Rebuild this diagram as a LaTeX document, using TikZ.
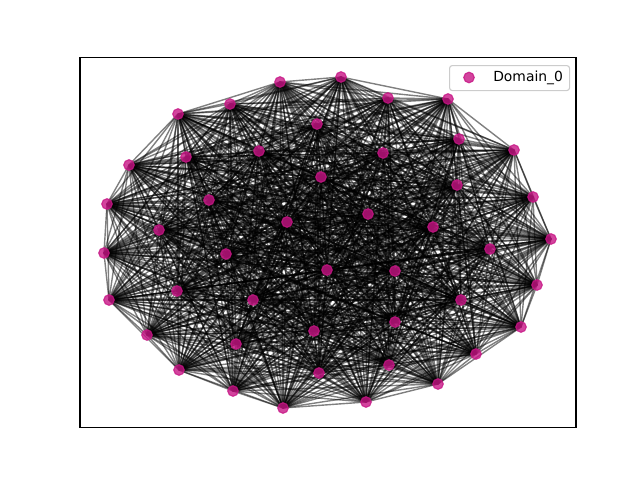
\documentclass[tikz,border=0pt]{standalone}
\usepackage{fontspec}
\setmainfont{DejaVu Sans}
\definecolor{mvr}{RGB}{199,21,133}
\pgfdeclarelayer{bg}
\pgfsetlayers{bg,main}
\begin{document}
\begin{tikzpicture}[x=0.72pt,y=-0.72pt,
  edge/.style={black,opacity=0.5,line width=1pt},
  vtx/.style={circle,fill=mvr,draw=mvr,fill opacity=0.8,draw opacity=0.8,line width=0.8pt,minimum size=7.6pt,inner sep=0pt},
  legbox/.style={draw=black!20,fill=white,fill opacity=0.8,rounded corners=2pt,line width=0.8pt},
  legtext/.style={font=\fontsize{10}{12}\selectfont,anchor=west,inner sep=0pt}]
\useasboundingbox (0,0) rectangle (640,480);
\foreach \i/\x/\y in {1/341/77,2/280/82,3/388/98,4/448/99,5/230/104,6/178/114,7/514/150,8/129/165,9/533/197,10/107/204,11/551/239,12/104/253,13/537/285,14/109/300,15/521/327,16/147/335,17/476/354,18/179/370,19/438/384,20/233/391,21/366/402,22/283/408,23/317/124,24/459/139,25/259/151,26/383/153,27/186/157,28/321/177,29/457/185,30/209/200,31/368/214,32/287/222,33/433/227,34/159/230,35/490/249,36/226/254,37/327/270,38/395/271,39/177/291,40/461/300,41/253/300,42/395/322,43/314/331,44/236/344,45/389/365,46/319/373}
  \node[vtx] (n\i) at (\x,\y) {};
\begin{pgfonlayer}{bg}
\foreach \i in {1,...,45}{
  \pgfmathtruncatemacro\s{\i+1}
  \foreach \j in {\s,...,46}{\draw[edge] (n\i.center)--(n\j.center);}
}
\end{pgfonlayer}
\draw[line width=0.8pt] (80,57.6) rectangle (576,427.2);
\node[legbox,minimum width=86.4pt,minimum height=18pt,anchor=north west] (leg) at (449,65) {};
\node[vtx] (legdot) at (469,77.5) {};
\node[legtext] (legt) at (493,77.5) {Domain\_0};
\end{tikzpicture}
\end{document}
